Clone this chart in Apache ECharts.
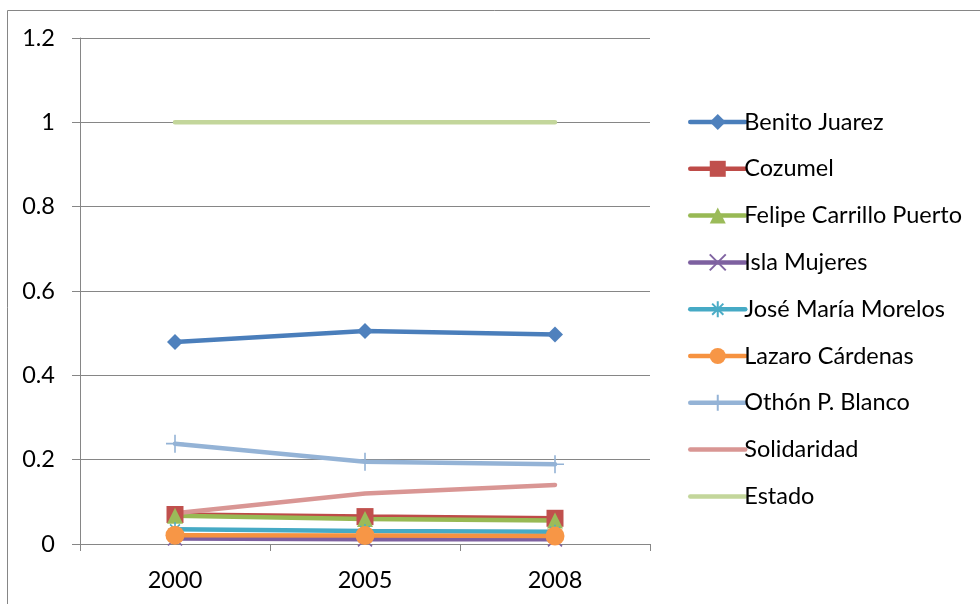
<!DOCTYPE html>
<html><head><meta charset="utf-8">
<script src="https://cdn.jsdelivr.net/npm/echarts@6/dist/echarts.min.js"></script>
<style>html,body{margin:0;padding:0;background:#fff}#c{width:980px;height:604px}</style>
</head><body><div id="c"></div>
<script>
var categories = ['2000', '2005', '2008'];
var seriesNames = ['Benito Juarez','Cozumel','Felipe Carrillo Puerto','Isla Mujeres','José María Morelos','Lazaro Cárdenas','Othón P. Blanco','Solidaridad','Estado'];
var benitoJuarez = [0.479, 0.505, 0.497];
var cozumel = [0.070, 0.065, 0.061];
var felipeCarrilloPuerto = [0.067, 0.059, 0.056];
var islaMujeres = [0.013, 0.011, 0.011];
var joseMariaMorelos = [0.035, 0.031, 0.029];
var lazaroCardenas = [0.021, 0.020, 0.019];
var othonPBlanco = [0.238, 0.195, 0.189];
var solidaridad = [0.073, 0.120, 0.140];
var estado = [1, 1, 1];
var yTicks = [0, 0.2, 0.4, 0.6, 0.8, 1, 1.2];

var font = 'Lato, "Open Sans", sans-serif';
var fs = 23.5;
var dataSets = [benitoJuarez, cozumel, felipeCarrilloPuerto, islaMujeres, joseMariaMorelos, lazaroCardenas, othonPBlanco, solidaridad, estado];
var lineColors = ['#4A7EBB','#BE4B48','#98B954','#7D60A0','#46AAC5','#F69240','#94B3D6','#D99694','#C3D69B'];
var markColors = ['#4F81BD','#C0504D','#9BBB59','#8064A2','#4BACC6','#F79646','#94B3D6','#DA9694','#C3D79B'];
var symbols = ['diamond','rect','triangle','path://M0,0L10,10M10,0L0,10','path://M5,0L5,10M0,5L10,5M1.5,1.5L8.5,8.5M8.5,1.5L1.5,8.5','circle','path://M5,0L5,10M0,5L10,5','none','none'];
var sizes = [16, 17, 16, 14, 14, 19, 18, 0, 0];
var stroked = [false,false,false,true,true,false,true,false,false];

var series = seriesNames.map(function(n, i){
  return {
    name: n, type: 'line', data: dataSets[i],
    symbol: symbols[i], symbolSize: sizes[i], showSymbol: symbols[i] !== 'none',
    lineStyle: {color: lineColors[i], width: 4.5, cap: 'round'},
    itemStyle: stroked[i] ? {color: 'transparent', borderColor: markColors[i], borderWidth: 1.6} : {color: markColors[i], borderWidth: 0},
    emphasis: {disabled: true}, animation: false
  };
});

var legendData = seriesNames.map(function(n, i){
  return symbols[i] === 'none' ? {name: n, itemStyle: {opacity: 0}} : {name: n};
});

var chart = echarts.init(document.getElementById('c'));
chart.setOption({
  animation: false,
  textStyle: {fontFamily: font},
  graphic: [{type: 'rect', shape: {x: 7.5, y: 10.5, width: 1200, height: 1200}, style: {fill: 'none', stroke: '#868686', lineWidth: 1}, silent: true}],
  grid: {left: 80, right: 330, top: 38, bottom: 60, containLabel: false},
  legend: {
    orient: 'vertical', left: 688, top: 110, padding: 0, itemWidth: 55, itemHeight: 20, itemGap: 22.8,
    data: legendData,
    lineStyle: {width: 4.5},
    textStyle: {fontFamily: font, fontSize: fs, color: '#000', lineHeight: 24, padding: [0,0,0,-6]}
  },
  xAxis: {
    type: 'category', data: categories, boundaryGap: true,
    axisLine: {lineStyle: {color: '#868686', width: 1}},
    axisTick: {show: true, length: 7, lineStyle: {color: '#868686'}},
    axisLabel: {fontFamily: font, fontSize: fs, color: '#000', margin: 24}
  },
  yAxis: {
    type: 'value', min: 0, max: 1.2, interval: 0.2,
    axisLine: {show: true, lineStyle: {color: '#868686', width: 1}},
    axisTick: {show: true, length: 8, lineStyle: {color: '#868686'}},
    splitLine: {lineStyle: {color: '#868686', width: 1}},
    axisLabel: {fontFamily: font, fontSize: fs, color: '#000', margin: 25,
      formatter: function(v){ var k = yTicks.indexOf(Math.round(v*10)/10); return k >= 0 ? String(yTicks[k]) : ''; }}
  },
  series: series
});
</script></body></html>
